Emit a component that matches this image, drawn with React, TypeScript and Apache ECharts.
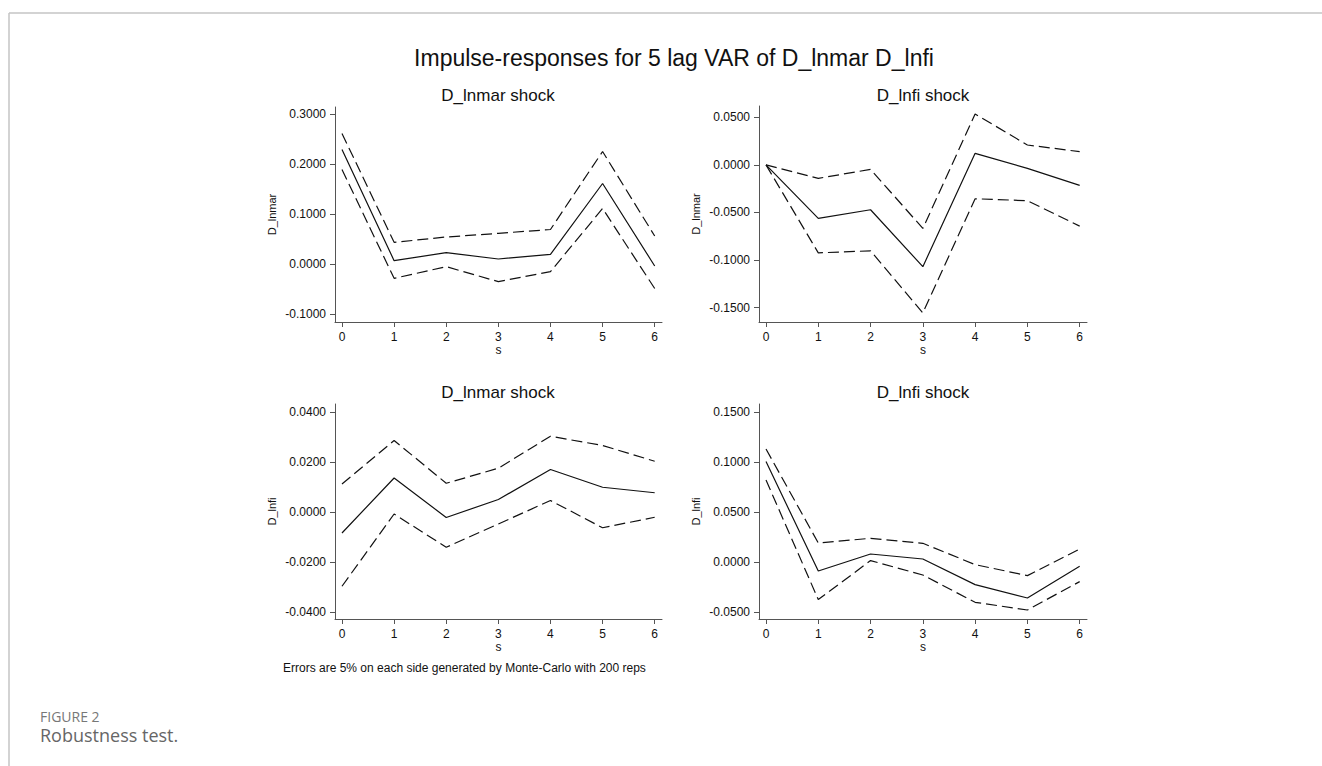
import React, { useEffect, useRef } from "react";
import * as echarts from "echarts";

const steps = [0, 1, 2, 3, 4, 5, 6];

// Panel 1: D_lnmar shock -> D_lnmar
const p1Irf = [0.229, 0.0067, 0.0227, 0.01, 0.0193, 0.161, -0.004];
const p1Upper = [0.261, 0.0433, 0.054, 0.0613, 0.069, 0.225, 0.056];
const p1Lower = [0.189, -0.0287, -0.0053, -0.0353, -0.0153, 0.111, -0.049];

// Panel 2: D_lnfi shock -> D_lnmar
const p2Irf = [0, -0.0563, -0.0472, -0.107, 0.0121, -0.0037, -0.0216];
const p2Upper = [0, -0.0142, -0.0047, -0.0668, 0.0535, 0.0209, 0.0139];
const p2Lower = [0, -0.0925, -0.0904, -0.1556, -0.0356, -0.0377, -0.0644];

// Panel 3: D_lnmar shock -> D_lnfi
const p3Irf = [-0.0083, 0.0137, -0.0021, 0.0051, 0.0171, 0.01, 0.0078];
const p3Upper = [0.0113, 0.0287, 0.0116, 0.0176, 0.0304, 0.0267, 0.0204];
const p3Lower = [-0.0296, -0.0007, -0.014, -0.0047, 0.0047, -0.0062, -0.002];

// Panel 4: D_lnfi shock -> D_lnfi
const p4Irf = [0.1007, -0.0087, 0.0083, 0.0033, -0.0223, -0.0357, -0.004];
const p4Upper = [0.1133, 0.0193, 0.024, 0.019, -0.0023, -0.0133, 0.0133];
const p4Lower = [0.0823, -0.0373, 0.0017, -0.0127, -0.04, -0.0477, -0.0193];

const yTicks1 = [-0.1, 0, 0.1, 0.2, 0.3];
const yTicks2 = [-0.15, -0.1, -0.05, 0, 0.05];
const yTicks3 = [-0.04, -0.02, 0, 0.02, 0.04];
const yTicks4 = [-0.05, 0, 0.05, 0.1, 0.15];

const mainTitle = "Impulse-responses for 5 lag VAR of D_lnmar D_lnfi";
const panelTitles = ["D_lnmar shock", "D_lnfi shock", "D_lnmar shock", "D_lnfi shock"];
const responseNames = ["D_lnmar", "D_lnmar", "D_lnfi", "D_lnfi"];
const xName = "s";
const note = "Errors are 5% on each side generated by Monte-Carlo with 200 reps";
const figLabel = "FIGURE 2";
const caption = "Robustness test.";

const FONT = "'Liberation Sans', Arial, sans-serif";

export default function App() {
  const ref = useRef<HTMLDivElement>(null);

  useEffect(() => {
    if (!ref.current) return;
    const chart = echarts.init(ref.current, null, { renderer: "svg" });

    const grids = [
      { left: 335, top: 107, width: 327, height: 215 },
      { left: 759, top: 106, width: 328, height: 216 },
      { left: 335, top: 404, width: 327, height: 215 },
      { left: 759, top: 404, width: 328, height: 215 },
    ];
    const yRanges = [
      [-0.116, 0.314],
      [-0.1652, 0.0619],
      [-0.0427, 0.0433],
      [-0.0567, 0.1583],
    ];
    const yTickSets = [yTicks1, yTicks2, yTicks3, yTicks4];
    const panels = [
      [p1Irf, p1Upper, p1Lower],
      [p2Irf, p2Upper, p2Lower],
      [p3Irf, p3Upper, p3Lower],
      [p4Irf, p4Upper, p4Lower],
    ];

    const axisLineStyle = { color: "#555", width: 1 };
    const labelStyle = { fontSize: 12, color: "#111", fontFamily: FONT };

    const xAxes = grids.map((_, i) => ({
      type: "value",
      gridIndex: i,
      min: -0.134,
      max: 6.14,
      name: xName,
      nameLocation: "middle",
      nameGap: 20,
      nameTextStyle: { fontSize: 12, color: "#111", fontFamily: FONT },
      axisLine: { show: true, onZero: false, lineStyle: axisLineStyle },
      axisTick: { show: true, length: 5, customValues: steps, lineStyle: axisLineStyle },
      axisLabel: {
        fontSize: 12,
        color: "#111",
        fontFamily: FONT,
        margin: 9,
        customValues: steps,
        formatter: (v: number) => String(v),
      },
      splitLine: { show: false },
    }));

    const yAxes = grids.map((_, i) => ({
      type: "value",
      gridIndex: i,
      min: yRanges[i][0],
      max: yRanges[i][1],
      name: responseNames[i],
      nameLocation: "middle",
      nameGap: 58,
      nameTextStyle: { fontSize: 11, color: "#111", fontFamily: FONT },
      axisLine: { show: true, onZero: false, lineStyle: axisLineStyle },
      axisTick: { show: true, length: 5, customValues: yTickSets[i], lineStyle: axisLineStyle },
      axisLabel: {
        ...labelStyle,
        margin: 9,
        customValues: yTickSets[i],
        formatter: (v: number) => v.toFixed(4),
      },
      splitLine: { show: false },
    }));

    const series: any[] = [];
    panels.forEach((p, i) => {
      const [irf, up, lo] = p;
      const mk = (vals: number[], dashed: boolean, name: string) => ({
        type: "line",
        name,
        xAxisIndex: i,
        yAxisIndex: i,
        data: steps.map((s, k) => [s, vals[k]]),
        showSymbol: false,
        symbol: "none",
        silent: true,
        lineStyle: {
          color: "#111",
          width: 1.2,
          type: dashed ? [11, 5] : "solid",
        },
      });
      series.push(mk(up, true, "upper"));
      series.push(mk(lo, true, "lower"));
      series.push(mk(irf, false, "irf"));
    });

    const titleCenters = [
      [498, 95],
      [923, 95],
      [498, 392],
      [923, 392],
    ];

    const graphic: any[] = [
      {
        type: "line",
        shape: { x1: 9, y1: 13, x2: 1322, y2: 13 },
        style: { stroke: "#c4c4c4", lineWidth: 1.5 },
      },
      {
        type: "line",
        shape: { x1: 9, y1: 13, x2: 9, y2: 766 },
        style: { stroke: "#c4c4c4", lineWidth: 1.5 },
      },
      {
        type: "text",
        x: 674,
        y: 58,
        style: {
          text: mainTitle,
          fontSize: 23,
          fontFamily: FONT,
          fill: "#111",
          textAlign: "center",
          textVerticalAlign: "middle",
        },
      },
      ...panelTitles.map((t, i) => ({
        type: "text",
        x: titleCenters[i][0],
        y: titleCenters[i][1],
        style: {
          text: t,
          fontSize: 17,
          fontFamily: FONT,
          fill: "#111",
          textAlign: "center",
          textVerticalAlign: "middle",
        },
      })),
      {
        type: "text",
        x: 283,
        y: 668,
        style: {
          text: note,
          fontSize: 12,
          fontFamily: FONT,
          fill: "#111",
          textAlign: "left",
          textVerticalAlign: "middle",
        },
      },
      {
        type: "text",
        x: 40,
        y: 716,
        style: {
          text: figLabel,
          fontSize: 14,
          fontFamily: "'Open Sans', sans-serif",
          fill: "#777",
          textAlign: "left",
          textVerticalAlign: "middle",
        },
      },
      {
        type: "text",
        x: 40,
        y: 735,
        style: {
          text: caption,
          fontSize: 18,
          fontFamily: "'Open Sans', sans-serif",
          fill: "#666",
          textAlign: "left",
          textVerticalAlign: "middle",
        },
      },
    ];

    chart.setOption({
      animation: false,
      backgroundColor: "#fff",
      grid: grids,
      xAxis: xAxes,
      yAxis: yAxes,
      series,
      graphic,
    });

    return () => chart.dispose();
  }, []);

  return (
    <div
      ref={ref}
      style={{ position: "fixed", left: 0, top: 0, width: 1322, height: 766 }}
    />
  );
}
